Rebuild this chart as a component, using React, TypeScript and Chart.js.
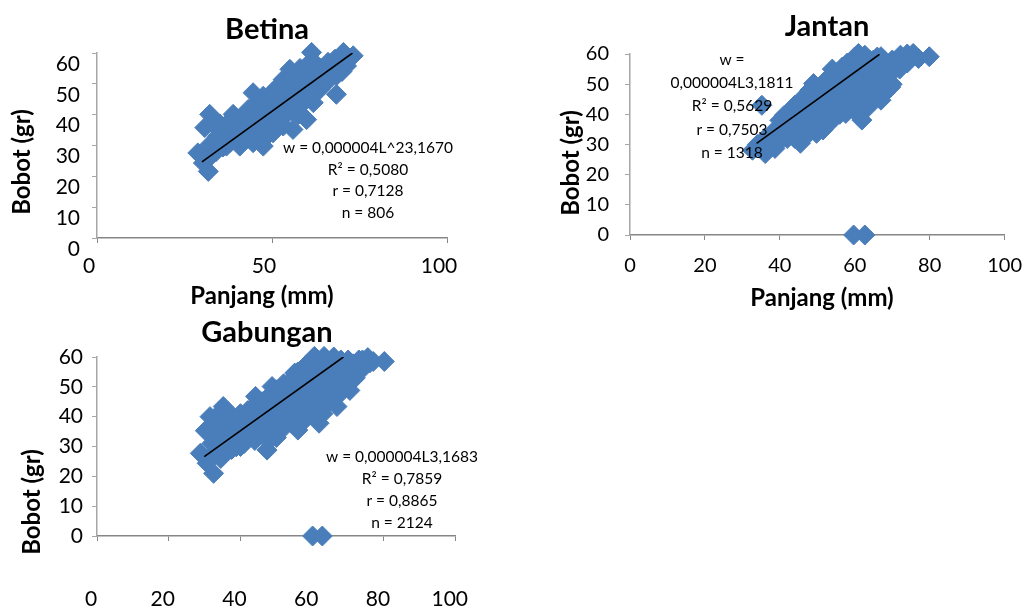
import React, { useEffect, useRef } from "react";
import { Chart, registerables } from "chart.js";

Chart.register(...registerables);

const FONT = "Lato, 'Open Sans', 'DejaVu Sans', sans-serif";
const BLUE = "#4A7EBB";
const AXIS_Y = "#A6A6A6";
const AXIS_X = "#868686";

// ---------- Betina: [Panjang (mm), Bobot (gr)] ----------
const BETINA_POINTS: [number, number][] = [
  [28.8, 27.6], [30.4, 24.3], [31.8, 21.6], [30.8, 35.8], [32.2, 40.1], [33.2, 27.6], [33.5, 31], [35.1, 37],
  [34.5, 33], [36, 29.5], [37, 29.8], [37.5, 34], [38.9, 40.1], [39, 36], [40.8, 29.8], [41, 33], [42, 38],
  [43.2, 41.7], [43, 35], [44.6, 30.9], [44.6, 47.1], [45, 39], [46, 36], [47.5, 29.8], [47.5, 46], [47, 42],
  [48.5, 33], [49, 39], [50, 44], [50.3, 34.1], [51.3, 48.7], [51, 41], [52, 37], [53.2, 51.4], [53.2, 36.3],
  [53, 45], [54, 41], [55.1, 54.7], [55, 48], [56, 35.2], [56, 44], [57, 50], [57.5, 40], [58, 51.4],
  [58, 42.8], [59.9, 38.4], [59, 47], [60, 53], [61.3, 60.2], [61.3, 54.7], [61.8, 43.9], [61, 49], [62.5, 51],
  [63.7, 48.2], [64, 53], [64.6, 50.4], [65.6, 54.7], [66, 51], [67, 56], [68.4, 52.6], [68.4, 46.6], [69, 57],
  [70.4, 60.2], [71.3, 55.8], [72, 58], [73.2, 59.1], [70, 54],
  [32, 26], [32, 30], [34, 28], [34, 32], [34, 36], [36, 31], [36, 35], [38, 31], [38, 34], [38, 38],
  [40, 33], [40, 37], [42, 32], [42, 35], [42, 39], [44, 34], [44, 37], [44, 42], [46, 35], [46, 39],
  [46, 43], [48, 37], [48, 41], [48, 45], [50, 38], [50, 42], [50, 47], [52, 39], [52, 44], [52, 49],
  [54, 40], [54, 45], [54, 50], [56, 41], [56, 47], [56, 52], [58, 45], [58, 49], [58, 55], [60, 46],
  [60, 51], [60, 56], [62, 47], [62, 52], [62, 57], [64, 51], [64, 55], [66, 53], [66, 57], [68, 55],
  [68, 58], [70, 56], [70, 59],
];
const BETINA_TREND_X = [30, 73];
const BETINA_TREND_Y = [24.7, 60];
const BETINA_X_TICKS = [0, 50, 100];
const BETINA_Y_TICKS = [0, 10, 20, 30, 40, 50, 60];
const BETINA_NOTE = ["w = 0,000004L^23,1670", "R² = 0,5080", "r = 0,7128", "n = 806"];

// ---------- Jantan ----------
const JANTAN_POINTS: [number, number][] = [
  [32.7, 28.1], [34, 30], [36.1, 27], [35.2, 43], [37, 31], [38.7, 28.7], [39, 33], [40, 36], [41.2, 39.7],
  [42.1, 37], [42, 32], [43, 34], [44, 38], [45.5, 30.4], [45.5, 44.7], [46, 36], [47.3, 45.8], [47, 40],
  [48, 34], [49, 50.2], [49.8, 33.7], [49, 42], [50, 38], [51.5, 34.8], [51, 47], [52, 43], [53, 39],
  [54.1, 52.4], [54, 46], [55, 41], [56.7, 55.7], [56, 49], [57.6, 40.3], [57, 44], [58, 53], [59.3, 55.7],
  [59.3, 44.7], [59, 50], [60, 47], [61, 60.2], [61.9, 38.1], [61, 53], [62.7, 59.6], [62, 50], [63.6, 42.4],
  [63, 56], [64, 46], [65, 53], [65, 58], [66, 49], [67, 59.1], [67, 44.7], [68, 55], [68, 51], [69.6, 49],
  [70, 57], [71.3, 55.7], [72.2, 59.6], [73.9, 58], [75.6, 60.2], [77, 58.5], [79.9, 59.1], [59.7, 0], [62.7, 0],
  [36, 29], [36, 32], [38, 30], [38, 34], [40, 31], [40, 35], [40, 38], [42, 33], [42, 36], [42, 40],
  [44, 32], [44, 36], [44, 40], [44, 43], [46, 33], [46, 38], [46, 42], [48, 35], [48, 39], [48, 44],
  [48, 48], [50, 36], [50, 40], [50, 45], [50, 49], [52, 37], [52, 42], [52, 47], [52, 51], [54, 38],
  [54, 43], [54, 48], [54, 55], [56, 40], [56, 45], [56, 50], [56, 54], [58, 42], [58, 47], [58, 52],
  [58, 57], [60, 41], [60, 45], [60, 50], [60, 55], [60, 59], [62, 44], [62, 48], [62, 52], [62, 56],
  [64, 45], [64, 49], [64, 54], [64, 58], [66, 47], [66, 51], [66, 55], [66, 59], [68, 47], [68, 52],
  [68, 57], [70, 50], [70, 54], [70, 58], [72, 55], [72, 58], [74, 57], [74, 60],
];
const JANTAN_TREND_X = [33.8, 66.6];
const JANTAN_TREND_Y = [30.4, 59.9];
const JANTAN_X_TICKS = [0, 20, 40, 60, 80, 100];
const JANTAN_Y_TICKS = [0, 10, 20, 30, 40, 50, 60];
const JANTAN_NOTE = ["w =", "0,000004L3,1811", "R² = 0,5629", "r = 0,7503", "n = 1318"];

// ---------- Gabungan ----------
const GABUNGAN_POINTS: [number, number][] = [
  [28.8, 27.7], [30.7, 24.4], [32.5, 21], [30.2, 35.3], [31.5, 40], [33, 38], [35.2, 43.4], [34, 30],
  [34.5, 26], [36, 33], [37, 37.5], [37.5, 29], [38.8, 29.9], [39.5, 34], [40, 38], [41, 31], [42, 36],
  [43, 40], [44.2, 46.8], [44, 33], [45, 38], [46, 42], [47.4, 28.8], [47, 35], [48.8, 50.1], [48, 44],
  [49, 39], [50, 33], [50, 47], [51, 42], [52.4, 36.7], [52, 51], [53, 46], [54, 40], [55.1, 54.6], [55, 48],
  [56, 35.5], [56, 43], [57, 52], [58, 47], [58, 39], [59, 56], [60, 50], [60.6, 60.2], [60, 44], [61.9, 37.8],
  [61, 54], [62, 47], [63.3, 60.2], [63, 41], [64, 57], [64.1, 46.2], [65, 51], [66, 55], [66.9, 43.4],
  [67.8, 56.8], [67, 48], [68, 59], [69, 52], [70.5, 48.8], [70, 57], [71.4, 57.7], [72, 54], [73, 59],
  [75.5, 59.8], [77, 58.5], [80.1, 58.5], [60.1, 0], [62.8, 0],
  [32, 27], [32, 31], [32, 35], [34, 29], [34, 33], [34, 37], [34, 41], [36, 30], [36, 34], [36, 39],
  [38, 32], [38, 36], [38, 40], [40, 30], [40, 34], [40, 41], [42, 33], [42, 38], [42, 42], [44, 32],
  [44, 36], [44, 40], [44, 44], [46, 34], [46, 39], [46, 45], [48, 32], [48, 37], [48, 42], [48, 47],
  [50, 36], [50, 40], [50, 45], [50, 49], [52, 38], [52, 43], [52, 48], [54, 38], [54, 43], [54, 47],
  [54, 52], [56, 40], [56, 45], [56, 50], [56, 55], [58, 42], [58, 47], [58, 52], [58, 57], [60, 41],
  [60, 46], [60, 51], [60, 56], [62, 43], [62, 48], [62, 53], [62, 58], [64, 44], [64, 50], [64, 55],
  [64, 59], [66, 46], [66, 51], [66, 56], [66, 60], [68, 48], [68, 53], [68, 57], [70, 51], [70, 55],
  [70, 59], [72, 53], [72, 57], [74, 56], [74, 59], [76, 58],
];
const GABUNGAN_TREND_X = [29.9, 68.7];
const GABUNGAN_TREND_Y = [26.6, 60];
const GABUNGAN_X_TICKS = [0, 20, 40, 60, 80, 100];
const GABUNGAN_Y_TICKS = [0, 10, 20, 30, 40, 50, 60];
const GABUNGAN_NOTE = ["w = 0,000004L3,1683", "R² = 0,7859", "r = 0,8865", "n = 2124"];

type TextItem = { text: string; x: number; y: number; size: number; bold?: boolean; rotate?: boolean };

type PanelProps = {
  left: number;
  top: number;
  width: number;
  height: number;
  area: { left: number; top: number; right: number; bottom: number };
  points: [number, number][];
  trendX: number[];
  trendY: number[];
  xTicks: number[];
  yTicks: number[];
  tickSize: number;
  xPad: number;
  yPad: number;
  xLabelOffset: number;
  yLabelOffset: number;
  texts: TextItem[];
};

function Panel(p: PanelProps) {
  const ref = useRef<HTMLCanvasElement>(null);
  useEffect(() => {
    const textPlugin = {
      id: "texts",
      afterDraw(chart: any) {
        const ctx = chart.ctx;
        ctx.save();
        ctx.fillStyle = "#000";
        ctx.textAlign = "center";
        ctx.textBaseline = "middle";
        for (const t of p.texts) {
          ctx.font = `${t.bold ? "bold " : ""}${t.size}px ${FONT}`;
          if (t.rotate) {
            ctx.save();
            ctx.translate(t.x, t.y);
            ctx.rotate(-Math.PI / 2);
            ctx.fillText(t.text, 0, 0);
            ctx.restore();
          } else {
            ctx.fillText(t.text, t.x, t.y);
          }
        }
        ctx.restore();
      },
    };
    const chart = new Chart(ref.current!, {
      type: "scatter",
      data: {
        datasets: [
          {
            data: p.trendX.map((x, i) => ({ x, y: p.trendY[i] })),
            showLine: true,
            pointRadius: 0,
            borderColor: "#000",
            borderWidth: 1.6,
            order: 0,
          } as any,
          {
            data: p.points.map(([x, y]) => ({ x, y })),
            pointStyle: "rectRot",
            pointRadius: 10,
            backgroundColor: BLUE,
            borderColor: BLUE,
            borderWidth: 1,
            clip: false,
            order: 1,
          } as any,
        ],
      },
      options: {
        animation: false,
        responsive: false,
        devicePixelRatio: 1,
        events: [],
        layout: {
          padding: { left: 0, top: p.area.top, right: p.width - p.area.right, bottom: 0 },
        },
        plugins: { legend: { display: false }, tooltip: { enabled: false }, title: { display: false } },
        scales: {
          x: {
            type: "linear",
            min: p.xTicks[0],
            max: p.xTicks[p.xTicks.length - 1],
            afterBuildTicks: (s: any) => {
              s.ticks = p.xTicks.map((v) => ({ value: v }));
            },
            afterFit: (s: any) => {
              s.height = p.height - p.area.bottom;
            },
            grid: { drawOnChartArea: false, drawTicks: true, tickLength: 5, color: AXIS_X },
            border: { display: true, color: AXIS_X, width: 1.5 },
            ticks: {
              font: { family: FONT, size: p.tickSize },
              color: "#000",
              padding: p.xPad,
              labelOffset: p.xLabelOffset,
              maxRotation: 0,
              autoSkip: false,
            },
          },
          y: {
            type: "linear",
            min: p.yTicks[0],
            max: p.yTicks[p.yTicks.length - 1],
            afterBuildTicks: (s: any) => {
              s.ticks = p.yTicks.map((v) => ({ value: v }));
            },
            afterFit: (s: any) => {
              s.width = p.area.left;
            },
            grid: { drawOnChartArea: false, drawTicks: true, tickLength: 5, color: AXIS_Y },
            border: { display: true, color: AXIS_Y, width: 1.5 },
            ticks: {
              font: { family: FONT, size: p.tickSize },
              color: "#000",
              padding: p.yPad,
              labelOffset: p.yLabelOffset,
              autoSkip: false,
            },
          },
        },
      } as any,
      plugins: [textPlugin],
    });
    return () => chart.destroy();
  }, []);
  return (
    <div style={{ position: "absolute", left: p.left, top: p.top, width: p.width, height: p.height }}>
      <canvas ref={ref} width={p.width} height={p.height} style={{ width: p.width, height: p.height, display: "block" }} />
    </div>
  );
}

function noteItems(lines: string[], cx: number, y0: number, step: number): TextItem[] {
  return lines.map((t, i) => ({ text: t, x: cx, y: y0 + i * step, size: 15.5 }));
}

export default function App() {
  return (
    <div style={{ position: "absolute", left: 0, top: 0, width: 1036, height: 609, background: "#fff", overflow: "hidden" }}>
      <Panel
        left={0}
        top={0}
        width={520}
        height={310}
        area={{ left: 97, top: 53, right: 447, bottom: 238 }}
        points={BETINA_POINTS}
        trendX={BETINA_TREND_X}
        trendY={BETINA_TREND_Y}
        xTicks={BETINA_X_TICKS}
        yTicks={BETINA_Y_TICKS}
        tickSize={21}
        xPad={11}
        yPad={12}
        xLabelOffset={-8}
        yLabelOffset={11}
        texts={[
          { text: "Betina", x: 267, y: 30, size: 29, bold: true },
          { text: "Panjang (mm)", x: 262, y: 296, size: 24, bold: true },
          { text: "Bobot (gr)", x: 22, y: 162, size: 24, bold: true, rotate: true },
          ...noteItems(BETINA_NOTE, 368, 148, 21.5),
        ]}
      />
      <Panel
        left={540}
        top={0}
        width={496}
        height={310}
        area={{ left: 90, top: 54, right: 478, bottom: 235 }}
        points={JANTAN_POINTS}
        trendX={JANTAN_TREND_X}
        trendY={JANTAN_TREND_Y}
        xTicks={JANTAN_X_TICKS}
        yTicks={JANTAN_Y_TICKS}
        tickSize={20}
        xPad={14}
        yPad={16}
        xLabelOffset={0}
        yLabelOffset={0}
        texts={[
          { text: "Jantan", x: 287, y: 27, size: 29, bold: true },
          { text: "Panjang (mm)", x: 282, y: 298, size: 24, bold: true },
          { text: "Bobot (gr)", x: 31, y: 163, size: 24, bold: true, rotate: true },
          ...noteItems(JANTAN_NOTE, 192, 60, 23.2),
        ]}
      />
      <Panel
        left={0}
        top={310}
        width={520}
        height={299}
        area={{ left: 97, top: 47, right: 465, bottom: 226 }}
        points={GABUNGAN_POINTS}
        trendX={GABUNGAN_TREND_X}
        trendY={GABUNGAN_TREND_Y}
        xTicks={GABUNGAN_X_TICKS}
        yTicks={GABUNGAN_Y_TICKS}
        tickSize={21}
        xPad={46}
        yPad={9}
        xLabelOffset={-6}
        yLabelOffset={0}
        texts={[
          { text: "Gabungan", x: 267, y: 23, size: 29, bold: true },
          { text: "Bobot (gr)", x: 32, y: 192, size: 24, bold: true, rotate: true },
          ...noteItems(GABUNGAN_NOTE, 402, 147, 22),
        ]}
      />
    </div>
  );
}
